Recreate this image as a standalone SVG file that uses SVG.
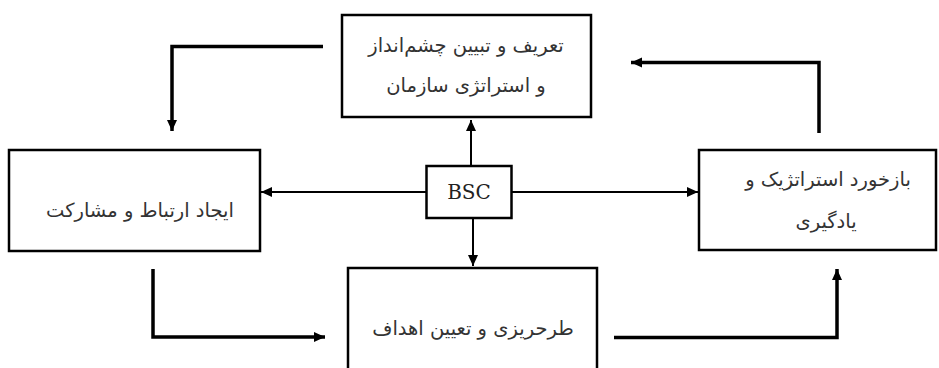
<svg xmlns="http://www.w3.org/2000/svg" width="939" height="368" viewBox="0 0 939 368">
<style>
.box{fill:#fff;stroke:#000;stroke-width:2.5}
.fa{font-family:"DejaVu Sans",sans-serif;font-size:19.5px;fill:#333;text-anchor:middle}
.thin{fill:none;stroke:#000;stroke-width:2}
.thick{fill:none;stroke:#000;stroke-width:3.5}
</style>
<defs>
<marker id="ah" markerUnits="userSpaceOnUse" markerWidth="12" markerHeight="12" refX="11" refY="6" orient="auto">
<path d="M0,1 L11,6 L0,11 Z" fill="#000"/>
</marker>
</defs>
<g id="connectors">
<path class="thin" d="M471,166 V120" marker-end="url(#ah)"/>
<path class="thin" d="M426,192 H261" marker-end="url(#ah)"/>
<path class="thin" d="M512,192 H698" marker-end="url(#ah)"/>
<path class="thin" d="M473,218 V266" marker-end="url(#ah)"/>
<path class="thick" d="M323,46.5 H172 V131" marker-end="url(#ah)"/>
<path class="thick" d="M819,133 V62.5 H631" marker-end="url(#ah)"/>
<path class="thick" d="M153,269 V337 H325" marker-end="url(#ah)"/>
<path class="thick" d="M614,337.5 H837 V269" marker-end="url(#ah)"/>
</g>
<g id="top">
<rect class="box" x="342" y="15" width="249" height="102"/>
<text class="fa" x="466" y="52" direction="rtl">تعریف و تبیین چشم‌انداز</text>
<text class="fa" x="466" y="92" direction="rtl">و استراتژی سازمان</text>
</g>
<g id="left">
<rect class="box" x="9" y="150" width="251" height="101"/>
<text class="fa" x="140" y="217" direction="rtl">ایجاد ارتباط و مشارکت</text>
</g>
<g id="bsc">
<rect class="box" x="426.5" y="166" width="85" height="52"/>
<text x="469" y="199" font-family="'DejaVu Serif',serif" font-size="20" fill="#222" text-anchor="middle">BSC</text>
</g>
<g id="right">
<rect class="box" x="699" y="150" width="237" height="100"/>
<text class="fa" x="828" y="186" direction="rtl">بازخورد استراتژیک و</text>
<text class="fa" x="826" y="228" direction="rtl">یادگیری</text>
</g>
<g id="bottom">
<rect class="box" x="348" y="268" width="249" height="110"/>
<text class="fa" x="473" y="335" direction="rtl">طرحریزی و تعیین اهداف</text>
</g>
</svg>
